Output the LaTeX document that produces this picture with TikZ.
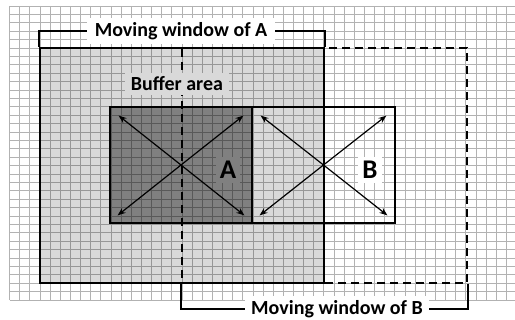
\documentclass[tikz,border=0pt]{standalone}
\usepackage{fontspec}
\setmainfont{Carlito}
\usetikzlibrary{arrows.meta,calc}
\definecolor{lightfill}{HTML}{D9D9D9}
\definecolor{darkfill}{HTML}{808080}
\begin{document}
\begin{tikzpicture}[x=1pt,y=-1pt,
  frame/.style={draw=black,line width=2.8pt,rectangle,inner sep=0pt},
  dashframe/.style={draw=black,line width=2pt,dash pattern=on 8pt off 5pt,rectangle,inner sep=0pt},
  gridline/.style={draw=black,line width=0.9pt,opacity=0.3},
  bracket/.style={draw=black,line width=2pt},
  cross/.style={draw=black,line width=1.2pt,-{Stealth[length=8pt,width=6pt]}},
  lab/.style={font=\fontsize{20}{24}\selectfont\bfseries,inner xsep=6pt,inner ysep=4pt},
  biglab/.style={font=\fontsize{27}{30}\selectfont\bfseries,inner sep=4pt}]
\useasboundingbox (0,0) rectangle (515,320);
\fill[white] (0,0) rectangle (515,320);
% windows and boxes
\node[frame,fill=lightfill,minimum width=284pt,minimum height=235pt] (winA) at (182,165.5) {};
\node[frame,fill=darkfill,minimum width=142pt,minimum height=116pt] (boxA) at (181,165) {};
\node[frame,minimum width=143pt,minimum height=116pt] (boxB) at (323.5,165) {};
\node[dashframe,minimum width=285pt,minimum height=235pt] (winB) at (324.5,165.5) {};
% grid
\draw[gridline]
  \foreach \i in {0,...,50} { ({9.6+10.14*\i},6) -- ({9.6+10.14*\i},300) }
  \foreach \j in {0,...,35} { (9.6,{6+8.4*\j}) -- (515,{6+8.4*\j}) };
% arrows
\coordinate (cA) at (boxA.center);
\coordinate (cB) at (boxB.center);
\draw[cross] (cA) -- ($(boxA.north west)+(10,10)$);
\draw[cross] (cA) -- ($(boxA.north east)+(-10,10)$);
\draw[cross] (cA) -- ($(boxA.south west)+(9,-9)$);
\draw[cross] (cA) -- ($(boxA.south east)+(-9,-9)$);
\draw[cross] (cB) -- ($(boxB.north west)+(10,10)$);
\draw[cross] (cB) -- ($(boxB.north east)+(-10,10)$);
\draw[cross] (cB) -- ($(boxB.south west)+(9,-9)$);
\draw[cross] (cB) -- ($(boxB.south east)+(-9,-9)$);
% labels
\node[lab,fill=white,inner xsep=8pt] (labA) at (181,31) {Moving window of A};
\node[lab,fill=white] (labB) at (337,309) {Moving window of B};
\node[lab,fill=lightfill] (buf) at (177,84) {Buffer area};
\node[biglab,fill=darkfill] (tA) at (228,170) {A};
\node[biglab,fill=white] (tB) at (370,170) {B};
% brackets
\draw[bracket] (winA.north west) |- (labA.west);
\draw[bracket] (winA.north east) |- (labA.east);
\draw[bracket] (winB.south west) |- (labB.west);
\draw[bracket] (winB.south east) |- (labB.east);
\end{tikzpicture}
\end{document}
